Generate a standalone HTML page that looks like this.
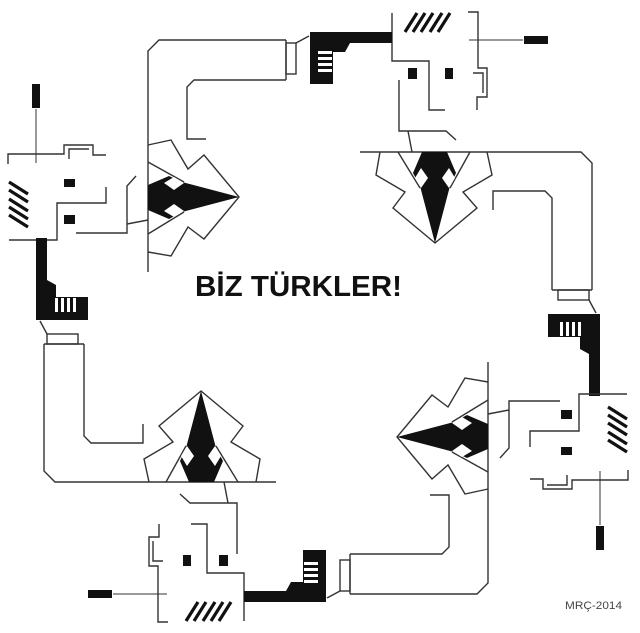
<!DOCTYPE html>
<html><head><meta charset="utf-8"><style>html,body{margin:0;padding:0;background:#fff}svg{display:block}</style></head>
<body>
<svg width="640" height="633" viewBox="0 0 640 633" xmlns="http://www.w3.org/2000/svg">
<defs>
<g id="u">
  <g fill="none" stroke="#333" stroke-width="1.4">
    <!-- head -->
    <polyline points="392,13 392,61 429,61 429,110 445,110"/>
    <polyline points="399,80 399,131 446,131 456,140"/>
    <line x1="408" y1="131" x2="412" y2="152"/>
    <polyline points="468,12 478,12 478,68 487,68 487,97 477,97 477,110"/>
    <polyline points="473,73 483,73 483,93"/>
    <line x1="469" y1="40" x2="523" y2="40" stroke-width="1"/>
    <!-- shoulder and arm -->
    <polyline points="360,152 581,152 592,163 592,290"/>
    <polyline points="493,210 493,191 545,191 552,198 552,290"/>
    <line x1="552" y1="290" x2="592" y2="290"/>
    <rect x="558" y="290" width="31" height="10"/>
    <line x1="589" y1="300" x2="596" y2="313"/>
    <!-- suit -->
    <polyline points="380,152 376,175 405,192 393,208 435,243 477,208 463,192 492,175 487,152"/>
    <line x1="398" y1="152" x2="420" y2="188"/>
    <line x1="470" y1="152" x2="450" y2="188"/>
  </g>
  <!-- hair -->
  <g stroke="#111" stroke-width="3.2">
    <line x1="405" y1="32" x2="417" y2="13"/>
    <line x1="413" y1="32" x2="425" y2="13"/>
    <line x1="421" y1="32" x2="433" y2="13"/>
    <line x1="430" y1="32" x2="442" y2="13"/>
    <line x1="438" y1="32" x2="450" y2="13"/>
  </g>
  <g fill="#111">
    <rect x="408" y="68" width="9" height="11"/>
    <rect x="445" y="68" width="8" height="11"/>
    <rect x="524" y="36" width="24" height="8"/>
    <polygon points="422,152 447,152 456,173 450,186 435,243 420,186 413,173"/>
  </g>
  <g fill="#fff">
    <polygon points="415,178 421,168 428,178 421,188"/>
    <polygon points="442,178 449,168 455,178 449,188"/>
  </g>
  <!-- hand -->
  <g transform="rotate(90 314 318)">
    <polygon fill="#111" points="310,32 392,32 392,43 350,43 345,52 333,52 333,84 310,84"/>
    <g fill="#fff"><rect x="318" y="51" width="14" height="3"/><rect x="318" y="57" width="14" height="3"/><rect x="318" y="63" width="14" height="3"/><rect x="318" y="69" width="14" height="3"/></g>
  </g>
</g>
</defs>
<use href="#u"/>
<g transform="rotate(-90 314 318)"><use href="#u"/></g>
<g transform="rotate(180 318 317)"><use href="#u"/></g>
<g transform="rotate(180 318 317)"><g transform="rotate(-90 314 318)"><use href="#u"/></g></g>
<text x="195" y="296" font-family="Liberation Sans, sans-serif" font-weight="bold" font-size="29" fill="#111" textLength="207" lengthAdjust="spacingAndGlyphs">BİZ TÜRKLER!</text>
<text x="565" y="609" font-family="Liberation Sans, sans-serif" font-size="11" fill="#444" textLength="57" lengthAdjust="spacingAndGlyphs">MRÇ-2014</text>
</svg>
</body></html>
